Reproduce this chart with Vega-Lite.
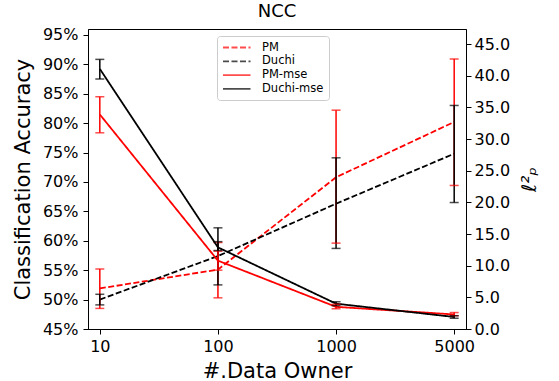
{
  "$schema": "https://vega.github.io/schema/vega-lite/v6.json",
  "width": 378,
  "height": 300,
  "autosize": {"type": "none"},
  "padding": {"left": 88, "top": 29, "right": 93, "bottom": 52},
  "config": {
    "font": "DejaVu Sans",
    "view": {"stroke": "black", "strokeWidth": 1},
    "axis": {
      "grid": false,
      "domainColor": "black",
      "tickColor": "black",
      "labelColor": "black",
      "titleColor": "black",
      "labelFontSize": 16,
      "titleFontSize": 21,
      "titleFontWeight": "normal",
      "tickSize": 5,
      "labelPadding": 3,
      "labelOverlap": false,
      "labelBound": false
    },
    "legend": {
      "orient": "none",
      "legendX": 129,
      "legendY": 7,
      "symbolType": "M-1,0H4",
      "symbolSize": 121,
      "symbolStrokeWidth": 1.8,
      "symbolFillColor": "transparent",
      "labelFontSize": 11.5,
      "labelColor": "black",
      "labelOffset": 27,
      "rowPadding": 1.8,
      "padding": 5,
      "strokeColor": "#cccccc",
      "fillColor": "white",
      "cornerRadius": 3
    }
  },
  "title": {"text": "NCC", "fontSize": 18, "fontWeight": "normal", "offset": 8, "dy": 16, "color": "black", "baseline": "alphabetic"},
  "data": {
    "values": [
      {"s": "PM", "n": "10", "v": 51.9, "lo": 48.5, "hi": 55.2, "ax": "L"},
      {"s": "PM", "n": "100", "v": 55.1, "lo": 50.3, "hi": 59.7, "ax": "L"},
      {"s": "PM", "n": "1000", "v": 70.8, "lo": 59.6, "hi": 82.2, "ax": "L"},
      {"s": "PM", "n": "5000", "v": 80.2, "lo": 69.4, "hi": 90.9, "ax": "L"},
      {"s": "Duchi", "n": "10", "v": 50.0, "lo": 49.1, "hi": 50.9, "ax": "L"},
      {"s": "Duchi", "n": "100", "v": 57.4, "lo": 52.5, "hi": 62.2, "ax": "L"},
      {"s": "Duchi", "n": "1000", "v": 66.3, "lo": 58.7, "hi": 74.1, "ax": "L"},
      {"s": "Duchi", "n": "5000", "v": 74.8, "lo": 66.5, "hi": 83.0, "ax": "L"},
      {"s": "PM-mse", "n": "10", "v": 33.9, "lo": 31.0, "hi": 36.7, "ax": "R"},
      {"s": "PM-mse", "n": "100", "v": 10.8, "lo": 9.3, "hi": 12.3, "ax": "R"},
      {"s": "PM-mse", "n": "1000", "v": 3.5, "lo": 3.2, "hi": 3.9, "ax": "R"},
      {"s": "PM-mse", "n": "5000", "v": 2.3, "lo": 2.1, "hi": 2.6, "ax": "R"},
      {"s": "Duchi-mse", "n": "10", "v": 41.1, "lo": 39.5, "hi": 42.6, "ax": "R"},
      {"s": "Duchi-mse", "n": "100", "v": 12.9, "lo": 12.4, "hi": 13.8, "ax": "R"},
      {"s": "Duchi-mse", "n": "1000", "v": 4.0, "lo": 3.7, "hi": 4.3, "ax": "R"},
      {"s": "Duchi-mse", "n": "5000", "v": 1.9, "lo": 1.7, "hi": 2.1, "ax": "R"}
    ]
  },
  "encoding": {
    "x": {
      "field": "n",
      "type": "ordinal",
      "sort": ["10", "100", "1000", "5000"],
      "scale": {"type": "point", "padding": 0.1},
      "axis": {"title": "#.Data Owner", "labelAngle": 0, "labelPadding": 4, "titlePadding": 6, "labelOverlap": false}
    },
    "color": {
      "field": "s",
      "type": "nominal",
      "title": null,
      "scale": {"domain": ["PM", "Duchi", "PM-mse", "Duchi-mse"], "range": ["#ff0000", "#000000", "#ff0000", "#000000"]}
    }
  },
  "layer": [
    {
      "transform": [{"filter": "datum.ax === 'L'"}],
      "layer": [
        {
          "mark": {"type": "line", "strokeWidth": 1.8},
          "encoding": {
            "y": {
              "field": "v",
              "type": "quantitative",
              "title": "Classification Accuracy",
              "scale": {"domain": [45, 96], "nice": false, "zero": false},
              "axis": {"values": [45, 50, 55, 60, 65, 70, 75, 80, 85, 90, 95], "labelExpr": "datum.value + '%'", "labelPadding": 5, "titlePadding": 9, "labelOverlap": false}
            },
            "strokeDash": {
              "field": "s",
              "type": "nominal",
              "title": null,
              "scale": {"domain": ["PM", "Duchi", "PM-mse", "Duchi-mse"], "range": [[6, 2.5], [6, 2.5], [1, 0], [1, 0]]}
            }
          }
        },
        {
          "mark": {"type": "rule", "strokeWidth": 1.5},
          "encoding": {
            "y": {
              "field": "lo",
              "type": "quantitative",
              "title": "Classification Accuracy",
              "axis": {"values": [45, 50, 55, 60, 65, 70, 75, 80, 85, 90, 95], "labelExpr": "datum.value + '%'", "labelPadding": 5, "titlePadding": 9, "labelOverlap": false}
            },
            "y2": {"field": "hi"}
          }
        },
        {
          "transform": [{"fold": ["lo", "hi"], "as": ["k", "w"]}],
          "mark": {"type": "tick", "size": 9, "thickness": 1.5},
          "encoding": {
            "y": {
              "field": "w",
              "type": "quantitative",
              "title": "Classification Accuracy",
              "axis": {"values": [45, 50, 55, 60, 65, 70, 75, 80, 85, 90, 95], "labelExpr": "datum.value + '%'", "labelPadding": 5, "titlePadding": 9, "labelOverlap": false}
            }
          }
        }
      ]
    },
    {
      "transform": [{"filter": "datum.ax === 'R'"}],
      "layer": [
        {
          "mark": {"type": "line", "strokeWidth": 1.8},
          "encoding": {
            "y": {
              "field": "v",
              "type": "quantitative",
              "title": "ℓ²ₚ",
              "scale": {"domain": [0, 47.4], "nice": false, "zero": false},
              "axis": {"orient": "right", "values": [0, 5, 10, 15, 20, 25, 30, 35, 40, 45], "format": ".1f", "labelPadding": 3, "titleAngle": 270, "titleBaseline": "top", "titlePadding": 10, "titleFontStyle": "italic", "titleFontSize": 20, "labelOverlap": false}
            },
            "strokeDash": {
              "field": "s",
              "type": "nominal",
              "title": null,
              "scale": {"domain": ["PM", "Duchi", "PM-mse", "Duchi-mse"], "range": [[6, 2.5], [6, 2.5], [1, 0], [1, 0]]}
            }
          }
        },
        {
          "mark": {"type": "rule", "strokeWidth": 1.5},
          "encoding": {
            "y": {
              "field": "lo",
              "type": "quantitative",
              "title": "ℓ²ₚ",
              "axis": {"orient": "right", "values": [0, 5, 10, 15, 20, 25, 30, 35, 40, 45], "format": ".1f", "labelPadding": 3, "titleAngle": 270, "titleBaseline": "top", "titlePadding": 10, "titleFontStyle": "italic", "titleFontSize": 20, "labelOverlap": false}
            },
            "y2": {"field": "hi"}
          }
        },
        {
          "transform": [{"fold": ["lo", "hi"], "as": ["k", "w"]}],
          "mark": {"type": "tick", "size": 9, "thickness": 1.5},
          "encoding": {
            "y": {
              "field": "w",
              "type": "quantitative",
              "title": "ℓ²ₚ",
              "axis": {"orient": "right", "values": [0, 5, 10, 15, 20, 25, 30, 35, 40, 45], "format": ".1f", "labelPadding": 3, "titleAngle": 270, "titleBaseline": "top", "titlePadding": 10, "titleFontStyle": "italic", "titleFontSize": 20, "labelOverlap": false}
            }
          }
        }
      ]
    }
  ],
  "resolve": {"scale": {"y": "independent"}}
}
